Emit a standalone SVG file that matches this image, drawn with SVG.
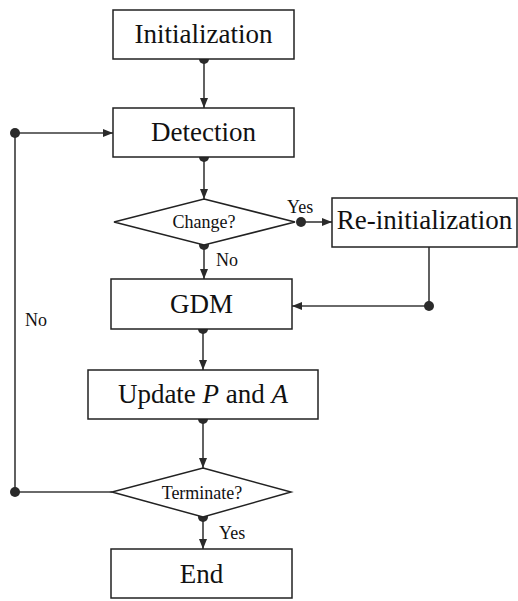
<svg xmlns="http://www.w3.org/2000/svg" width="518" height="601" viewBox="0 0 518 601">
<style>
.box{fill:#fff;stroke:#222;stroke-width:1.5}
.ln{fill:none;stroke:#3a3a3a;stroke-width:1.6}
.dot{fill:#2a2a2a}
text{font-family:'Liberation Serif','Times New Roman',Times,serif;fill:#111}
.t{text-anchor:middle}
.big{font-size:27px}
.sm{font-size:18px}
.lbl{font-size:18px}
</style>
<defs>
<marker id="ah" viewBox="0 0 10 8" refX="10" refY="4" markerWidth="10" markerHeight="8" markerUnits="userSpaceOnUse" orient="auto">
<path d="M0,0 L10,4 L0,8 z" fill="#2a2a2a"/>
</marker>
</defs>
<rect width="518" height="601" fill="#fff"/>
<g id="connectors">
<line class="ln" x1="204" y1="59" x2="204" y2="108" marker-end="url(#ah)"/>
<line class="ln" x1="204" y1="157" x2="204" y2="199" marker-end="url(#ah)"/>
<line class="ln" x1="301" y1="222" x2="332" y2="222" marker-end="url(#ah)"/>
<line class="ln" x1="204" y1="245" x2="204" y2="279" marker-end="url(#ah)"/>
<polyline class="ln" points="429,247 429,306 292,306" marker-end="url(#ah)"/>
<line class="ln" x1="203" y1="329" x2="203" y2="370" marker-end="url(#ah)"/>
<line class="ln" x1="203" y1="419" x2="203" y2="468" marker-end="url(#ah)"/>
<line class="ln" x1="203" y1="517" x2="203" y2="549" marker-end="url(#ah)"/>
<polyline class="ln" points="112,492 15,492 15,133 113,133" marker-end="url(#ah)"/>
<circle class="dot" cx="204" cy="59" r="5"/>
<circle class="dot" cx="204" cy="157" r="5"/>
<circle class="dot" cx="301" cy="222" r="5"/>
<circle class="dot" cx="204" cy="245" r="5"/>
<circle class="dot" cx="429" cy="306" r="5"/>
<circle class="dot" cx="203" cy="329" r="5"/>
<circle class="dot" cx="203" cy="419" r="5"/>
<circle class="dot" cx="203" cy="517" r="5"/>
<circle class="dot" cx="15" cy="492" r="5"/>
<circle class="dot" cx="15" cy="133" r="5"/>
<text class="lbl" x="287" y="213">Yes</text>
<text class="lbl" x="216" y="266">No</text>
<text class="lbl" x="25" y="326">No</text>
<text class="lbl" x="219" y="539">Yes</text>
</g>
<g id="init">
<rect class="box" x="113" y="10" width="181" height="49"/>
<text class="t big" x="203.5" y="43">Initialization</text>
</g>
<g id="detection">
<rect class="box" x="113" y="108" width="181" height="49"/>
<text class="t big" x="203.5" y="141">Detection</text>
</g>
<g id="change">
<polygon class="box" points="204,199 295,222 204,245 114,222"/>
<text class="t sm" x="204" y="228">Change?</text>
</g>
<g id="reinit">
<rect class="box" x="332" y="198" width="185" height="49"/>
<text class="t big" x="424.5" y="229">Re-initialization</text>
</g>
<g id="gdm">
<rect class="box" x="111" y="279" width="181" height="50"/>
<text class="t big" x="201.5" y="313">GDM</text>
</g>
<g id="update">
<rect class="box" x="88" y="370" width="230" height="49"/>
<text class="t big" x="203" y="403">Update <tspan font-style="italic">P</tspan> and <tspan font-style="italic">A</tspan></text>
</g>
<g id="terminate">
<polygon class="box" points="203,468 291,492 203,517 112,492"/>
<text class="t sm" x="202" y="499">Terminate?</text>
</g>
<g id="end">
<rect class="box" x="111" y="549" width="181" height="49"/>
<text class="t big" x="201.5" y="583">End</text>
</g>
</svg>
